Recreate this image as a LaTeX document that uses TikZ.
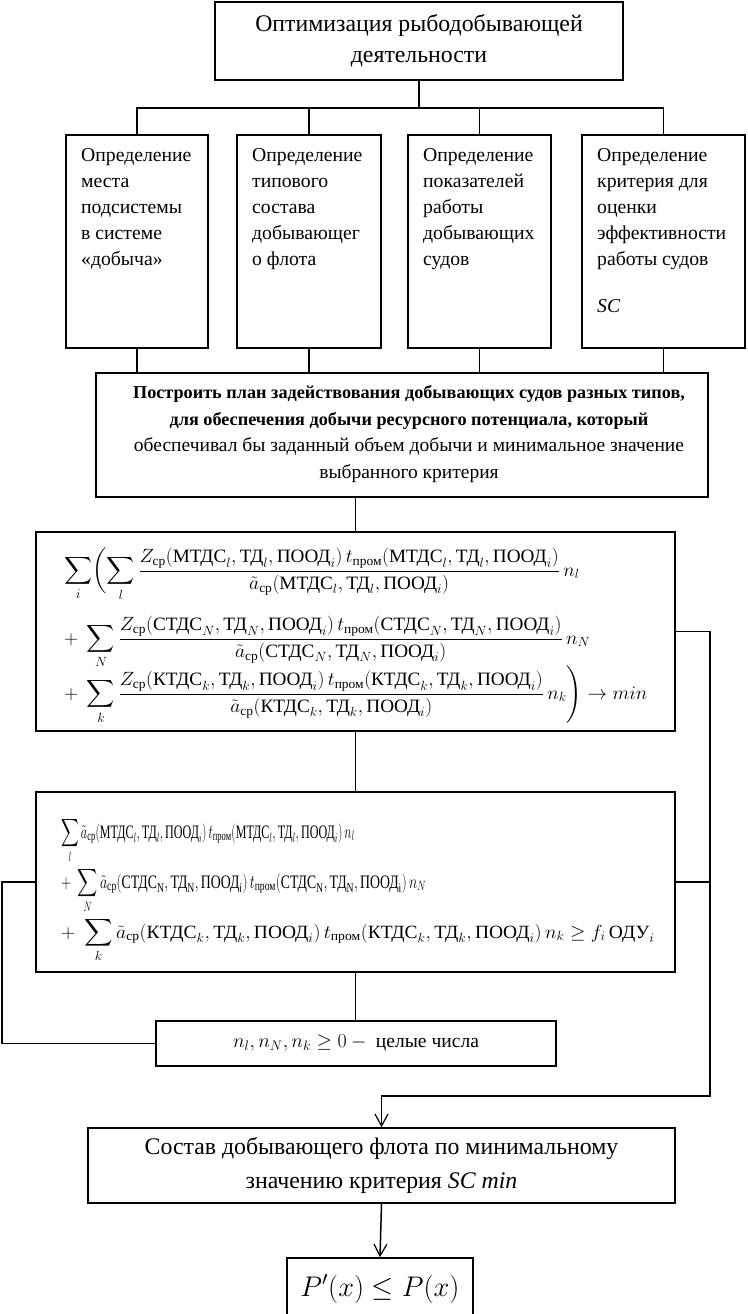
\documentclass[tikz,border=0pt]{standalone}
\usepackage{amsmath}
\usepackage{fontspec}
\setmainfont{Liberation Serif}
\usetikzlibrary{arrows.meta}
\newcommand{\tx}[1]{\text{#1}}
\begin{document}
\begin{tikzpicture}[x=1pt,y=-1pt,
  box/.style={draw,line width=1.5pt,inner sep=0pt},
  ln/.style={line width=1.5pt},
  arr/.style={line width=1.5pt,-{Straight Barb[length=12pt,width=13pt,line width=1.2pt]}},
  btxt/.style={anchor=north west,align=left,inner sep=0pt,font=\fontsize{19.7}{26}\selectfont},
  fl/.style={anchor=base west,inner sep=0pt,font=\fontsize{17}{20}\selectfont}]
\useasboundingbox (0,0) rectangle (747,1314);
\clip (0,0) rectangle (747,1314);
% top
\node[box,minimum width=408,minimum height=78,align=center,font=\fontsize{23.8}{31}\selectfont] (top) at (419,41) {Оптимизация рыбодобывающей\\деятельности};
% four boxes
\node[box,minimum width=142,minimum height=213] (b1) at (137,241.5) {};
\node[box,minimum width=144,minimum height=213] (b2) at (309,241.5) {};
\node[box,minimum width=143,minimum height=213] (b3) at (479.5,241.5) {};
\node[box,minimum width=163,minimum height=213] (b4) at (663.5,241.5) {};
\node[btxt] (t1) at (81,148) {Определение\\места\\подсистемы\\в системе\\«добыча»};
\node[btxt] (t2) at (252,148) {Определение\\типового\\состава\\добывающег\\о флота};
\node[btxt] (t3) at (423,148) {Определение\\показателей\\работы\\добывающих\\судов};
\node[btxt] (t4) at (597,148) {Определение\\критерия для\\оценки\\эффективности\\работы судов\\[21pt]\textit{SC}};
% plan
\node[box,minimum width=612,minimum height=124] (plan) at (402,435) {};
\node[align=center,inner sep=0pt,font=\fontsize{19.5}{26.7}\selectfont] (plantxt) at (409,434) {{\fontsize{18.2}{26.7}\selectfont\bfseries Построить план задействования добывающих судов разных типов,}\\{\fontsize{18.2}{26.7}\selectfont\bfseries для обеспечения добычи ресурсного потенциала, который}\\обеспечивал бы заданный объем добычи и минимальное значение\\выбранного критерия};
% formula 1
\node[box,minimum width=639,minimum height=199] (f1) at (355.5,631.5) {};
\node[fl] (f1a) at (64,576) {\scalebox{1.13}[1.11]{$\displaystyle \sum_i \biggl(\sum_l \frac{Z_{\tx{ср}}(\tx{МТДС}_l, \tx{ТД}_l, \tx{ПООД}_i)\,t_{\tx{пром}}(\tx{МТДС}_l, \tx{ТД}_l, \tx{ПООД}_i)}{\tilde{a}_{\tx{ср}}(\tx{МТДС}_l, \tx{ТД}_l, \tx{ПООД}_i)}\, n_l$}};
\node[fl] (f1b) at (64,644) {\scalebox{1.13}[1.11]{$\displaystyle +\;\sum_N \frac{Z_{\tx{ср}}(\tx{СТДС}_N, \tx{ТД}_N, \tx{ПООД}_i)\,t_{\tx{пром}}(\tx{СТДС}_N, \tx{ТД}_N, \tx{ПООД}_i)}{\tilde{a}_{\tx{ср}}(\tx{СТДС}_N, \tx{ТД}_N, \tx{ПООД}_i)}\, n_N$}};
\node[fl] (f1c) at (64,699) {\scalebox{1.13}[1.11]{$\displaystyle +\;\sum_k \frac{Z_{\tx{ср}}(\tx{КТДС}_k, \tx{ТД}_k, \tx{ПООД}_i)\,t_{\tx{пром}}(\tx{КТДС}_k, \tx{ТД}_k, \tx{ПООД}_i)}{\tilde{a}_{\tx{ср}}(\tx{КТДС}_k, \tx{ТД}_k, \tx{ПООД}_i)}\, n_k \Biggr) \to min$}};
% formula 2
\node[box,minimum width=639,minimum height=180] (f2) at (355.5,882) {};
\node[fl] (f2a) at (61,838) {\scalebox{0.71}[1.12]{$\displaystyle \sum_l \tilde{a}_{\tx{ср}}(\tx{МТДС}_l, \tx{ТД}_l, \tx{ПООД}_i)\,t_{\tx{пром}}(\tx{МТДС}_l, \tx{ТД}_l, \tx{ПООД}_i)\,n_l$}};
\node[fl] (f2b) at (61,888) {\scalebox{0.81}[1.12]{$\displaystyle +\;\sum_N \tilde{a}_{\tx{ср}}(\tx{СТДС}_{\mathrm{N}}, \tx{ТД}_{\mathrm{N}}, \tx{ПООД}_{\mathrm{i}})\,t_{\tx{пром}}(\tx{СТДС}_{\mathrm{N}}, \tx{ТД}_{\mathrm{N}}, \tx{ПООД}_{\mathrm{i}})\,n_N$}};
\node[fl] (f2c) at (61,938) {\scalebox{1.145}[1.1]{$\displaystyle +\;\sum_k \tilde{a}_{\tx{ср}}(\tx{КТДС}_k, \tx{ТД}_k, \tx{ПООД}_i)\,t_{\tx{пром}}(\tx{КТДС}_k, \tx{ТД}_k, \tx{ПООД}_i)\,n_k \ge f_i\,\tx{ОДУ}_i$}};
% constraint
\node[box,minimum width=400,minimum height=45,font=\fontsize{17}{20}\selectfont] (cons) at (356,1043.5) {\scalebox{1.15}{$n_l, n_N, n_k \ge 0 -{}$ целые числа}};
% result
\node[box,minimum width=587,minimum height=75,align=center,font=\fontsize{23.8}{33}\selectfont] (res) at (381.5,1165.5) {Состав добывающего флота по минимальному\\значению критерия \textit{SC min}};
\node[box,minimum width=186,minimum height=62,font=\fontsize{26}{30}\selectfont] (fin) at (380,1289) {\scalebox{1.14}{$P'(x) \le P(x)$}};
% connectors
\coordinate (bus) at (419,108);
\draw[ln] (top.south) -- (bus);
\draw[ln] (b1.north) -- (b1.north |- bus) -- (b4.north |- bus) -- (b4.north);
\draw[ln] (b2.north) -- (b2.north |- bus);
\draw[ln] (b3.north) -- (b3.north |- bus);
\foreach \n in {b1,b2,b3,b4} \draw[ln] (\n.south) -- (\n.south |- plan.north);
\draw[ln] (plan.south -| f1.north) -- (f1.north);
\draw[ln] (f1.south) -- (f2.north);
\draw[ln] (f2.south) -- (f2.south |- cons.north);
\coordinate (rt) at (710,1096);
\draw[arr] (f1.east) -| (rt) -| (res.north);
\draw[ln] (f2.east) -- (f2.east -| rt);
\coordinate (lf) at (2,1043.5);
\draw[ln] (f2.west) -| (lf) -- (cons.west);
\draw[arr] (res.south) -- (fin.north);
\end{tikzpicture}
\end{document}
